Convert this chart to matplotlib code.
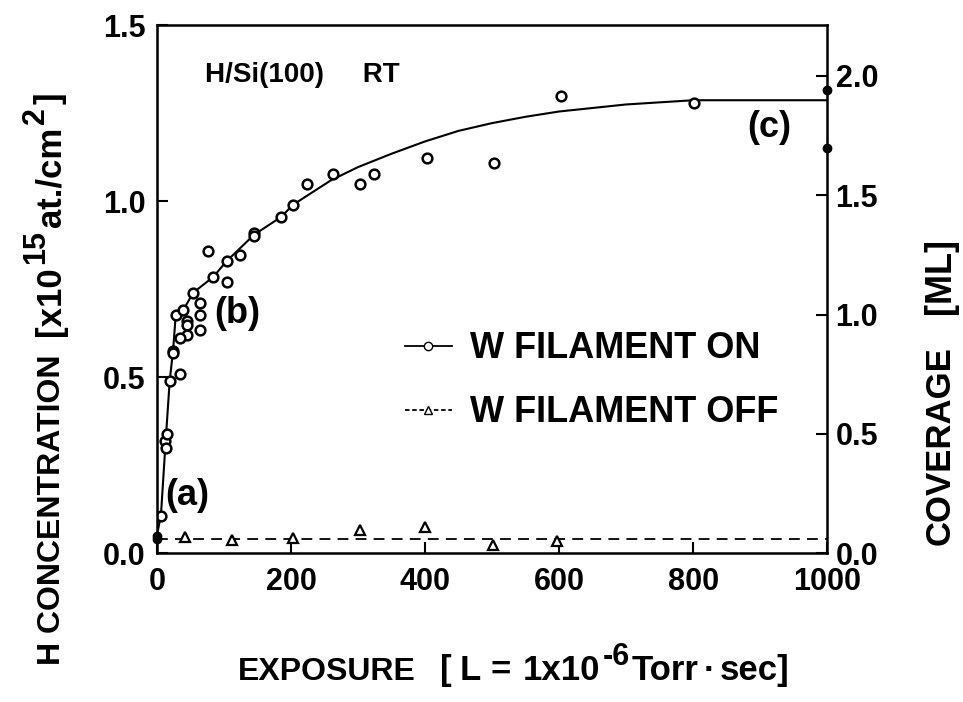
import matplotlib.pyplot as plt
from matplotlib.lines import Line2D
from matplotlib.transforms import IdentityTransform

plt.rcParams['font.family'] = ['Liberation Sans', 'DejaVu Sans']
plt.rcParams['font.weight'] = 'bold'

# W filament ON, open circles (exposure in L, H concentration in 1e15 at./cm2)
on_x = [6, 12, 13, 15, 19, 34, 24, 24, 28, 39, 45, 45, 45, 34, 54, 64, 64, 64,
        76, 84, 104, 104, 124, 145, 145, 185, 203, 224, 263, 303, 324, 403,
        503, 603, 801]
on_y = [0.105, 0.32, 0.30, 0.34, 0.49, 0.51, 0.575, 0.57, 0.676, 0.69, 0.66,
        0.648, 0.62, 0.61, 0.74, 0.71, 0.676, 0.634, 0.86, 0.785, 0.83, 0.77,
        0.847, 0.91, 0.90, 0.955, 0.99, 1.048, 1.077, 1.048, 1.077, 1.122,
        1.11, 1.30, 1.28]

# filled points on the axes
fill_x = [0, 0, 1000, 1000]
fill_y = [0.05, 0.04, 1.315, 1.15]

# guide curve through the ON data
curve_x = [0, 6, 13, 19, 24, 28, 39, 54, 84, 104, 145, 185, 203, 260, 300,
           350, 400, 450, 500, 550, 600, 700, 800, 1000]
curve_y = [0.05, 0.11, 0.32, 0.49, 0.575, 0.676, 0.69, 0.74, 0.785, 0.83,
           0.905, 0.955, 0.99, 1.06, 1.097, 1.135, 1.17, 1.20, 1.222, 1.24,
           1.255, 1.275, 1.287, 1.287]

# W filament OFF, open triangles
off_x = [42, 112, 203, 303, 400, 501, 597]
off_y = [0.045, 0.037, 0.043, 0.065, 0.074, 0.023, 0.034]
off_level = 0.04

ml = 0.678  # 1 ML of Si(100) in 1e15 at./cm2

fig = plt.figure(figsize=(9.63, 7.02), dpi=100)
ax = fig.add_axes([0.163, 0.212, 0.696, 0.752])

ax.plot(curve_x, curve_y, '-', color='black', lw=1.5)
ax.plot(on_x, on_y, 'o', mfc='white', mec='black', mew=1.8, ms=7, ls='none')
ax.plot(fill_x, fill_y, 'o', color='black', ms=6, ls='none', clip_on=False, zorder=5)
ax.plot([0, 1000], [off_level, off_level], '--', color='black', lw=1.3, dashes=(6, 4))
ax.plot(off_x, off_y, '^', mfc='white', mec='black', mew=1.6, ms=7, ls='none')

ax.set_xlim(0, 1000)
ax.set_ylim(0, 1.5)
ax.set_xticks([0, 200, 400, 600, 800, 1000])
ax.set_yticks([0.0, 0.5, 1.0, 1.5])
ax.set_yticklabels(['0.0', '0.5', '1.0', '1.5'])
ax.tick_params(direction='in', length=8, width=1.5, labelsize=22, pad=8)
ax.tick_params(axis='x', pad=10)
for s in ax.spines.values():
    s.set_linewidth(1.8)

ax2 = ax.twinx()
ax2.set_ylim(0, 1.5 / ml)
ax2.set_yticks([0.0, 0.5, 1.0, 1.5, 2.0])
ax2.set_yticklabels(['0.0', '0.5', '1.0', '1.5', '2.0'])
ax2.tick_params(direction='in', length=8, width=1.5, labelsize=22, pad=6)

ax.text(72, 1.36, 'H/Si(100)     RT', fontsize=20, fontweight='bold', va='center')
ax.text(12, 0.165, '(a)', fontsize=26, fontweight='bold', va='center')
ax.text(86, 0.68, '(b)', fontsize=26, fontweight='bold', va='center')
ax.text(880, 1.21, '(c)', fontsize=26, fontweight='bold', va='center')

handles = [
    Line2D([], [], color='black', lw=1.3, marker='o', mfc='white', mec='black', ms=6),
    Line2D([], [], color='black', lw=1.3, ls='--', dashes=(2.5, 1.5), marker='^',
           mfc='white', mec='black', ms=6),
]
ax.legend(handles, ['W FILAMENT ON', 'W FILAMENT OFF'], frameon=False,
          loc='upper left', bbox_to_anchor=(0.37, 0.42), fontsize=26,
          handlelength=1.3, handletextpad=0.5, labelspacing=0.8,
          borderpad=0, borderaxespad=0)


# axis labels built from pieces so the superscripts can be large
renderer = fig.canvas.get_renderer()


def label_pieces(x0, y0, pieces, rotation):
    pos = 0
    for s, size, rise, gap in pieces:
        pos += gap
        t = fig.text(0, 0, s, fontsize=size, fontweight='bold',
                     rotation=rotation, rotation_mode='anchor', ha='left',
                     va='baseline', transform=IdentityTransform())
        bb = t.get_window_extent(renderer)
        if rotation == 0:
            t.set_position((x0 + pos, y0 + rise))
            pos += bb.width
        else:
            t.set_position((x0 - rise, y0 + pos))
            pos += bb.height


label_pieces(238, 22, [('EXPOSURE', 23, 0, 0), ('[', 25, 0, 24), ('L', 25, 0, 8),
                       ('=', 25, 0, 10), ('1x10', 25, 0, 12), ('-6', 22, 15, 2),
                       ('Torr', 25, 0, 2), ('\u00b7', 25, 0, 5), ('sec]', 25, 0, 5)], 0)
label_pieces(60, 37, [('H CONCENTRATION', 23, 0, 0), ('[x10', 25, 0, 18),
                      ('15', 22, 16, 3), ('at./cm', 25, 0, 3),
                      ('2', 22, 16, 3), (']', 25, 0, 3)], 90)
label_pieces(950, 157, [('COVERAGE', 25, 0, 0), ('[ML]', 26, 0, 32)], 90)

fig.savefig('out.png', dpi=100)
